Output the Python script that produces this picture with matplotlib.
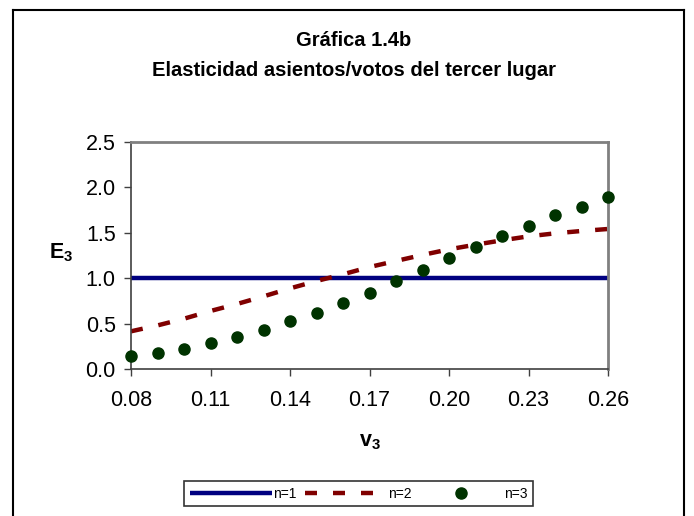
import matplotlib
matplotlib.use("Agg")
import matplotlib.pyplot as plt
from matplotlib.lines import Line2D

plt.rcParams['font.family'] = ['Liberation Sans', 'DejaVu Sans']
plt.rcParams['mathtext.fontset'] = 'custom'
plt.rcParams['mathtext.rm'] = 'Liberation Sans'
plt.rcParams['mathtext.bf'] = 'Liberation Sans:bold'
plt.rcParams['mathtext.it'] = 'Liberation Sans:italic'

v3 = [0.08, 0.09, 0.10, 0.11, 0.12, 0.13, 0.14, 0.15, 0.16, 0.17,
      0.18, 0.19, 0.20, 0.21, 0.22, 0.23, 0.24, 0.25, 0.26]
e_n1 = [1.0] * 19
e_n2 = [0.415, 0.48, 0.554, 0.639, 0.716, 0.80, 0.888, 0.969, 1.043, 1.123,
        1.19, 1.256, 1.318, 1.369, 1.417, 1.461, 1.494, 1.52, 1.542]
e_n3 = [0.14, 0.176, 0.224, 0.286, 0.352, 0.426, 0.525, 0.620, 0.731, 0.841,
        0.965, 1.087, 1.222, 1.344, 1.465, 1.579, 1.700, 1.788, 1.891]
xticks = [0.08, 0.11, 0.14, 0.17, 0.20, 0.23, 0.26]
yticks = [0.0, 0.5, 1.0, 1.5, 2.0, 2.5]
labels = ['n=1', 'n=2', 'n=3']

fig = plt.figure(figsize=(6.94, 5.16), dpi=100)
ax = fig.add_axes([131/694, 1-369/516, (608-131)/694, (369-142)/516])

l1, = ax.plot(v3, e_n1, color='#000080', lw=3.2, solid_capstyle='butt', label=labels[0])
l2, = ax.plot(v3, e_n2, color='#800000', lw=3.2, dashes=(2.7, 3.6),
              dash_capstyle='butt', label=labels[1])
l3, = ax.plot(v3, e_n3, ls='none', marker='o', ms=8, color='#003300',
              mec='#003300', label=labels[2], clip_on=False, zorder=5)

ax.set_xlim(0.08, 0.26)
ax.set_ylim(0, 2.5)
ax.set_xticks(xticks)
ax.set_xticklabels([f'{t:.2f}' for t in xticks])
ax.set_yticks(yticks)
ax.set_yticklabels([f'{t:.1f}' for t in yticks])
ax.tick_params(direction='out', length=5, width=1, labelsize=15.5, color='#404040', pad=6)
ax.tick_params(axis='x', pad=10)
for s in ['left', 'bottom']:
    ax.spines[s].set_color('#404040')
    ax.spines[s].set_linewidth(1.2)
for s in ['top', 'right']:
    ax.spines[s].set_color('#808080')
    ax.spines[s].set_linewidth(2)

fig.text(61/694, 1-253/516, r'$\mathbf{E}_\mathbf{3}$', fontsize=15.5, ha='center',
         va='center')
fig.text(370/694, 1-442/516, r'$\mathbf{v}_\mathbf{3}$', fontsize=15.5, ha='center',
         va='center')

fig.text(0.510, 1-40/516, 'Gráfica 1.4b', fontsize=14.5, fontweight='bold',
         ha='center', va='center')
fig.text(0.510, 1-70/516, 'Elasticidad asientos/votos del tercer lugar', fontsize=14.5,
         fontweight='bold', ha='center', va='center')

leg = fig.legend(handles=[l1, l2, l3], labels=labels, ncol=3, loc='center',
                 bbox_to_anchor=(358.5/694, 1-493.5/516), fontsize=10,
                 handlelength=5.9, handletextpad=0.1, columnspacing=0.6,
                 numpoints=1, frameon=True, fancybox=False, edgecolor='black',
                 borderpad=0.4, borderaxespad=0)
leg.get_frame().set_linewidth(1.2)

# outer border (left, top, right)
fig.add_artist(Line2D([13/694, 13/694], [0, 1-10/516], color='black', lw=1.5,
                      transform=fig.transFigure))
fig.add_artist(Line2D([13/694, 684/694], [1-10/516, 1-10/516], color='black', lw=1.5,
                      transform=fig.transFigure))
fig.add_artist(Line2D([684/694, 684/694], [0, 1-10/516], color='black', lw=1.5,
                      transform=fig.transFigure))

fig.savefig('out.png', dpi=100)
